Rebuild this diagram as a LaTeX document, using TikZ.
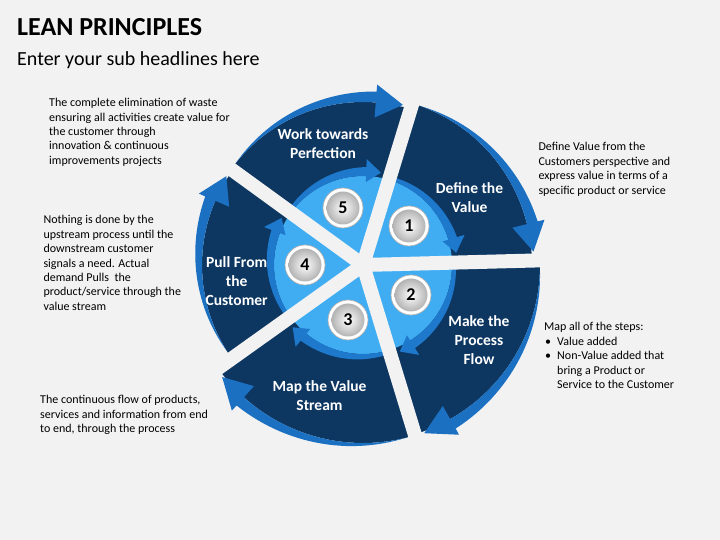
\documentclass[tikz,border=0pt]{standalone}
\usepackage{fontspec}
\setmainfont{Carlito}
\definecolor{bg}{HTML}{F2F2F2}
\definecolor{navy}{HTML}{0D3761}
\definecolor{outerblue}{HTML}{1C70C2}
\definecolor{lightblue}{HTML}{40ADF2}
\definecolor{ringblue}{HTML}{1E78CC}
\newcommand{\lpWedge}[3]{%
  \fill[navy] (0,0) -- ({#2+0.8}:#3) arc[start angle={#2+0.8}, end angle={#1-0.8}, radius=#3 pt] -- cycle;}
\newcommand{\lpOuterArrow}[3]{%
  \pgfmathsetmacro\lpas{#1-3}%
  \pgfmathsetmacro\lpab{#2+12.5}%
  \pgfmathsetmacro\lpae{#2+3}%
  \fill[outerblue] ({\lpas}:{#3}) -- plot[domain=0:1,samples=30,variable=\t] ({\lpas-\t*(\lpas-\lpab)}:{#3+11*\t}) -- ({\lpab}:{#3+18}) -- ({\lpae}:{#3+2}) -- ({\lpab}:{#3-15}) -- ({\lpab}:{#3}) arc[start angle=\lpab, end angle=\lpas, radius=#3 pt] -- cycle;}
\newcommand{\lpInnerArrow}[2]{%
  \pgfmathsetmacro\lpas{#1-4}%
  \pgfmathsetmacro\lpab{#2+15}%
  \pgfmathsetmacro\lpae{#2+6}%
  \fill[ringblue] ({\lpas}:{89}) -- plot[domain=0:1,samples=30,variable=\t] ({\lpas-\t*(\lpas-\lpab)}:{93+5*\t}) -- ({\lpab}:{106}) -- ({\lpae}:{94}) -- ({\lpab}:{83}) -- ({\lpab}:{89}) arc[start angle=\lpab, end angle=\lpas, radius=89pt] -- cycle;}
\begin{document}
\begin{tikzpicture}[x=1pt,y=1pt,
  body/.style={font=\fontsize{12}{14.4}\selectfont, align=left, anchor=base west, inner sep=0pt, text=black},
  seglabel/.style={font=\bfseries\fontsize{15.5}{19}\selectfont, text=white, align=center, inner sep=0pt, anchor=base},
  discrim/.style={circle, minimum size=40pt, inner sep=0pt, fill=white, draw=black!30, line width=0.7pt},
  numdisc/.style={circle, minimum size=33pt, inner sep=0pt, inner color=white, outer color=black!30, font=\bfseries\fontsize{18}{18}\selectfont}]
\useasboundingbox (0,0) rectangle (720,540);
\fill[bg] (0,0) rectangle (720,540);
\node[anchor=base west, inner sep=0pt, font=\bfseries\fontsize{26}{30}\selectfont] (title) at (17,504) {LEAN PRINCIPLES};
\node[anchor=base west, inner sep=0pt, font=\fontsize{20}{24}\selectfont] (sub) at (17,474.3) {Enter your sub headlines here};
\begin{scope}[shift={(363,275)}]
  \lpWedge{73}{1.5}{169}
  \lpWedge{1.5}{-73}{177}
  \lpWedge{-73}{-144.5}{178}
  \lpWedge{215.5}{144}{161}
  \lpWedge{144}{73}{163}
  \fill[lightblue] (0,0) circle[radius=89pt];
  \lpInnerArrow{73}{1.5}
  \lpInnerArrow{1.5}{-73}
  \lpInnerArrow{-73}{-144.5}
  \lpInnerArrow{215.5}{144}
  \lpInnerArrow{144}{73}
  \foreach \g in {73,1.5,-73,215.5,144} \draw[bg, line width=14pt] (0,0) -- (\g:215);
  \lpOuterArrow{73}{1.5}{169}
  \lpOuterArrow{1.5}{-73}{177}
  \lpOuterArrow{-73}{-144.5}{178}
  \lpOuterArrow{215.5}{144}{161}
  \lpOuterArrow{144}{73}{163}
\end{scope}
\node[discrim] (c1r) at (409,314) {};
\node[numdisc] (n1) at (409,314) {1};
\node[discrim] (c2r) at (411,245) {};
\node[numdisc] (n2) at (411,245) {2};
\node[discrim] (c3r) at (348,220) {};
\node[numdisc] (n3) at (348,220) {3};
\node[discrim] (c4r) at (305,275) {};
\node[numdisc] (n4) at (305,275) {4};
\node[discrim] (c5r) at (343,332) {};
\node[numdisc] (n5) at (343,332) {5};
\node[seglabel] (l5) at (323,381.7) {Work towards\\Perfection};
\node[seglabel] (l1) at (469.5,327.3) {Define the\\Value};
\node[seglabel] (l2) at (479,175.3) {Make the\\Process\\Flow};
\node[seglabel] (l3) at (319.5,129.3) {Map the Value\\Stream};
\node[seglabel] (l4) at (236.7,234.7) {Pull From\\the\\Customer};
\node[body] (t5) at (49,375.7) {The complete elimination of waste\\ensuring all activities create value for\\the customer through\\innovation \& continuous\\improvements projects};
\node[body] (t1) at (538.3,345.8) {Define Value from the\\Customers perspective and\\express value in terms of a\\specific product or service};
\node[body] (t4) at (43.3,229.6) {Nothing is done by the\\upstream process until the\\downstream customer\\signals a need. Actual\\demand Pulls~ the\\product/service through the\\value stream};
\node[body] (t2) at (544,209) {Map all of the steps:};
\node[body] (b1) at (545,194.5) {\textbullet};
\node[body] (b2) at (545,180) {\textbullet};
\node[body] (t2a) at (557,194.5) {Value added};
\node[body] (t2b) at (557,151.2) {Non-Value added that\\bring a Product or\\Service to the Customer};
\node[body] (t3) at (40,107.2) {The continuous flow of products,\\services and information from end\\to end, through the process};
\end{tikzpicture}
\end{document}
